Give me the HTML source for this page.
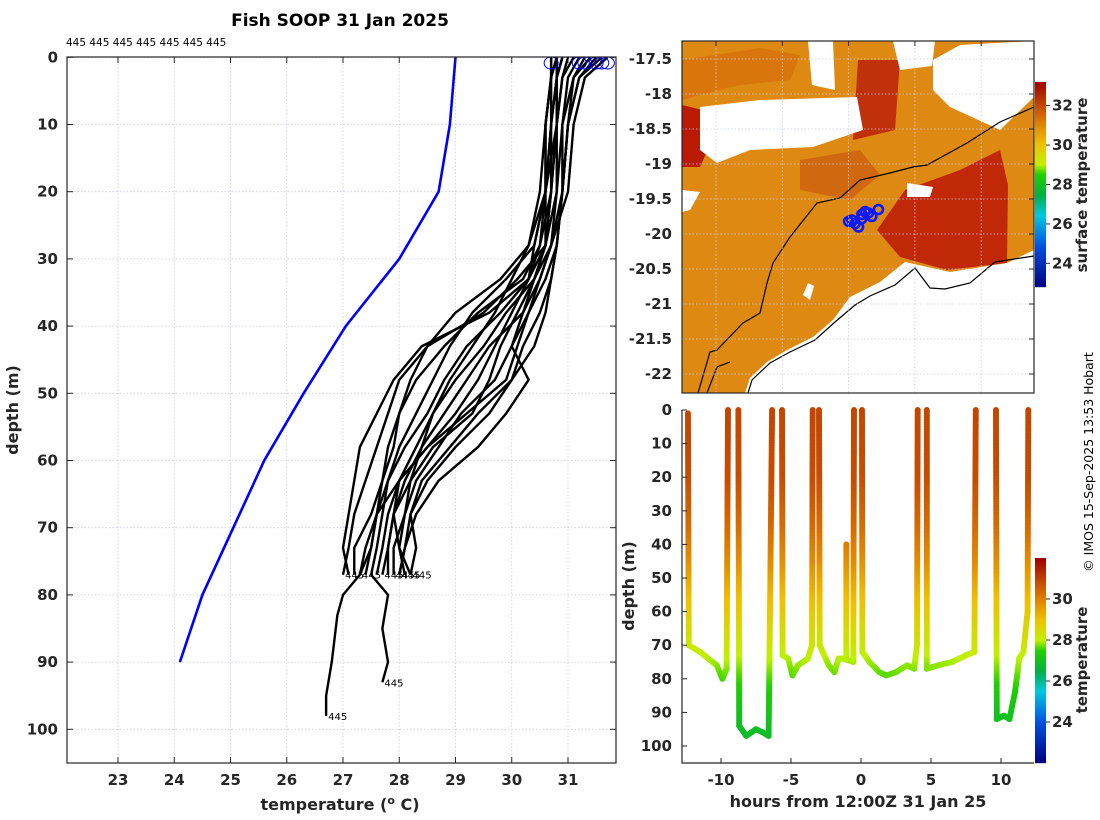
<!DOCTYPE html>
<html><head><meta charset="utf-8">
<style>
html,body{margin:0;padding:0;background:#fff;}
svg{display:block;font-family:"DejaVu Sans","Liberation Sans",sans-serif;}
.tk{font-weight:bold;font-size:15px;fill:#262626;}
.lab{font-weight:bold;font-size:16px;fill:#262626;}
</style></head>
<body>
<svg id="fig" width="1100" height="820" viewBox="0 0 1100 820" xmlns="http://www.w3.org/2000/svg">
<text x="340" y="26" text-anchor="middle" style="font-weight:bold;font-size:17px;fill:#000">Fish SOOP 31 Jan 2025</text>
<text x="66" y="46" style="font-size:10.5px;fill:#000">445 445 445 445 445 445 445</text>
<g id="left"></g>
<g id="map"></g>
<g id="sect"></g>
<text transform="translate(1093,462) rotate(-90)" text-anchor="middle" style="font-size:12.5px;fill:#000">© IMOS 15-Sep-2025 13:53 Hobart</text>
</svg>
<script>
// ---------- DATA ----------
const depthLevels = [0,3,10,20,28,33,38,43,48,53,58,63,68,73,77];
const prof1  = [30.7,30.7,30.6,30.6,30.5,30.3,29.8,29.2,28.8,28.5,28.1,27.8,27.6,27.4,27.3];
const prof2  = [30.9,30.8,30.7,30.6,30.4,29.9,29.3,28.9,28.6,28.3,28.0,27.8,27.7,27.6,27.5];
const prof3  = [31.2,31.0,30.9,30.8,30.6,30.4,30.1,29.8,29.6,29.3,28.6,28.2,27.9,27.8,27.7];
const prof4  = [31.5,31.2,31.0,30.9,30.8,30.6,30.3,30.0,29.7,29.1,28.7,28.3,28.1,27.9,27.9];
const prof5  = [31.7,31.3,31.1,31.0,30.7,30.4,29.9,29.5,29.0,28.6,28.4,28.2,28.1,28.0,28.2];
const prof6  = [30.8,30.7,30.7,30.7,30.6,30.4,30.2,30.0,30.3,29.9,29.4,28.7,28.3,28.1,28.0];
const prof7  = [31.0,30.9,30.8,30.7,30.5,30.2,29.4,28.8,28.3,28.0,27.8,27.7,27.6,27.5,27.3];
const prof8  = [30.9,30.8,30.8,30.7,30.6,30.1,29.5,28.5,28.0,27.8,27.6,27.4,27.2,27.1,27.0];
const prof9  = [31.3,31.1,31.0,30.9,30.7,30.5,30.2,29.6,29.2,28.8,28.4,28.1,27.9,27.8,27.8];
const prof10 = [30.8,30.7,30.6,30.6,30.4,30.3,30.0,29.7,29.4,29.0,28.5,28.0,27.6,27.5,27.4];
const prof11 = [31.4,31.1,30.9,30.9,30.8,30.7,30.6,30.4,30.0,29.6,29.0,28.5,28.2,28.1,28.0];
const prof12 = [30.7,30.7,30.6,30.5,30.3,29.8,29.0,28.5,28.2,28.0,27.9,27.7,27.5,27.2,27.2];
const prof13 = [31.1,30.9,30.8,30.8,30.7,30.5,30.3,30.1,29.9,29.2,28.5,28.0,27.9,28.0,28.1];
const prof14 = [30.8,30.8,30.7,30.6,30.6,30.3,29.6,28.4,27.9,27.6,27.3,27.2,27.1,27.0,27.1];
const prof15 = [31.6,31.2,31.0,30.9,30.8,30.7,30.5,30.2,30.0,29.4,28.9,28.4,28.2,28.3,28.2];
const prof16 = [30.9,30.8,30.8,30.6,30.3,30.0,29.7,29.3,28.9,28.6,28.3,28.0,27.8,27.7,27.6];
const tail1Depth = [80,83,90,95,98];
const tail1Temp  = [27.0,26.9,26.8,26.7,26.7];
const tail2Depth = [80,85,90,93];
const tail2Temp  = [27.8,27.7,27.8,27.7];
const climDepth = [0,10,20,30,40,50,60,70,80,90];
const climTemp  = [29.0,28.9,28.7,28.0,27.05,26.3,25.6,25.05,24.5,24.1];
const tempTicks = [23,24,25,26,27,28,29,30,31];
const depthTicks = [0,10,20,30,40,50,60,70,80,90,100];

const castLon = [116.05,116.1,116.2,116.25,116.35,116.45,116.15,116.0,116.3,116.2];
const castLat = [-19.8,-19.85,-19.72,-19.68,-19.75,-19.65,-19.9,-19.82,-19.7,-19.78];
const latTicks = [-17.5,-18,-18.5,-19,-19.5,-20,-20.5,-21,-21.5,-22];
const lonTicks = [114,115,116,117,118];
const sstTicks = [24,26,28,30,32];

const cast1Hours = [-12.36,-12.3,-11.5,-10.3,-9.9,-9.6,-9.5];
const cast1Depth = [1,70,72,76,80,77,0];
const cast2Hours = [-8.76,-8.7,-8.2,-7.5,-7.0,-6.6,-6.5,-6.35];
const cast2Depth = [0,94,97,95,96,97,60,0];
const cast3Hours = [-5.64,-5.6,-5.2,-4.9,-4.5,-3.8,-3.5,-3.45];
const cast3Depth = [0,73,74,79,76,74,70,0];
const cast4Hours = [-3.0,-2.95,-2.3,-1.9,-1.6,-1.3,-0.55,-0.5];
const cast4Depth = [0,70,76,78,74,74,75,0];
const cast5Hours = [-1.05,-1.05];
const cast5Depth = [40,74];
const cast6Hours = [0.07,0.1,0.6,1.3,1.8,2.5,3.3,3.8,4.0,4.05];
const cast6Depth = [0,72,75,78,79,78,76,77,70,0];
const cast7Hours = [4.7,4.7,5.5,6.5,7.5,8.1,8.2];
const cast7Depth = [0,77,76,75,73,72,0];
const cast8Hours = [9.64,9.7,10.2,10.6,11.0,11.3,11.6,11.9,11.95];
const cast8Depth = [0,92,91,92,84,74,72,60,0];
const colorDepth = [0,20,35,45,55,65,72,80,90,100];
const colorTemp  = [30.9,30.8,30.3,29.8,29.1,28.5,28.1,27.6,27.1,26.8];
const hourTicks = [-10,-5,0,5,10];
const secDepthTicks = [0,10,20,30,40,50,60,70,80,90,100];
const secCbTicks = [24,26,28,30];

// ---------- HELPERS ----------
const NS="http://www.w3.org/2000/svg";
function el(tag,attrs,parent){const e=document.createElementNS(NS,tag);for(const k in attrs)e.setAttribute(k,attrs[k]);parent.appendChild(e);return e;}
const cmStops=[[0,[0,0,128]],[0.2,[0,80,224]],[0.35,[0,200,224]],[0.45,[0,176,64]],[0.55,[32,208,0]],[0.6,[192,240,0]],[0.7,[240,192,0]],[0.8,[224,128,0]],[0.9,[192,64,0]],[1,[160,0,0]]];
function cmap(f){f=Math.max(0,Math.min(1,f));for(let i=1;i<cmStops.length;i++){if(f<=cmStops[i][0]){const a=cmStops[i-1],b=cmStops[i];const t=(f-a[0])/(b[0]-a[0]);const c=a[1].map((v,j)=>Math.round(v+(b[1][j]-v)*t));return `rgb(${c[0]},${c[1]},${c[2]})`;}}return 'rgb(160,0,0)';}
function interp(xs,ys,x){if(x<=xs[0])return ys[0];for(let i=1;i<xs.length;i++){if(x<=xs[i]){const t=(x-xs[i-1])/(xs[i]-xs[i-1]);return ys[i-1]+(ys[i]-ys[i-1])*t;}}return ys[ys.length-1];}
const grid={stroke:'#c8cce0','stroke-width':0.8,'stroke-dasharray':'1.5 2'};

// ---------- LEFT PROFILE PLOT ----------
const L=document.getElementById('left');
const LX0=67,LX1=616,LY0=57,LY1=763;
const tX=t=>61.75+(t-22)*56.25;
const dY=d=>57.3+d*6.72;
tempTicks.forEach(t=>{const l=el('line',Object.assign({x1:tX(t),x2:tX(t),y1:LY0,y2:LY1},grid),L);
});
depthTicks.forEach(d=>{const l=el('line',Object.assign({x1:LX0,x2:LX1,y1:dY(d),y2:dY(d)},grid),L);
});
const clim=el('polyline',{points:climDepth.map((d,i)=>tX(climTemp[i])+','+dY(d)).join(' '),fill:'none',stroke:'#0000ff','stroke-width':2.6},L);


const profiles=[prof1,prof2,prof3,prof4,prof5,prof6,prof7,prof8,prof9,prof10,prof11,prof12,prof13,prof14,prof15,prof16];
profiles.forEach((p,i)=>{
  let pts=depthLevels.map((d,j)=>[tX(p[j]),dY(d)]);
  if(i===0)tail1Depth.forEach((d,j)=>pts.push([tX(tail1Temp[j]),dY(d)]));
  if(i===1)tail2Depth.forEach((d,j)=>pts.push([tX(tail2Temp[j]),dY(d)]));
  const pl=el('polyline',{points:pts.map(q=>q.join(',')).join(' '),fill:'none',stroke:'#000','stroke-width':2.4,'stroke-linejoin':'round'},L);
  
  
  const last=pts[pts.length-1];
  if(i<8){const tx=el('text',{x:last[0]+2,y:last[1]+4,style:'font-size:10px;fill:#000'},L);tx.textContent='445';
  }
});
[prof1,prof3,prof4,prof5,prof9,prof15].forEach(p=>{const c=el('ellipse',{cx:tX(p[0]),cy:63,rx:7,ry:6,fill:'none',stroke:'#0000ff','stroke-width':1},L);
});
const lbox=el('rect',{x:LX0,y:LY0,width:LX1-LX0,height:LY1-LY0,fill:'none',stroke:'#262626','stroke-width':1.2},L);

tempTicks.forEach(t=>{el('line',{x1:tX(t),x2:tX(t),y1:LY1,y2:LY1-6,stroke:'#262626'},L);el('line',{x1:tX(t),x2:tX(t),y1:LY0,y2:LY0+6,stroke:'#262626'},L);
const tx=el('text',{x:tX(t),y:785,'text-anchor':'middle',class:'tk'},L);tx.textContent=t;
});
depthTicks.forEach(d=>{el('line',{x1:LX0,x2:LX0+6,y1:dY(d),y2:dY(d),stroke:'#262626'},L);el('line',{x1:LX1,x2:LX1-6,y1:dY(d),y2:dY(d),stroke:'#262626'},L);
const tx=el('text',{x:58,y:dY(d)+5,'text-anchor':'end',class:'tk'},L);tx.textContent=d;
});
const xl=el('text',{x:340,y:810,'text-anchor':'middle',class:'lab'},L);
xl.innerHTML='temperature (<tspan dy="-6" style="font-size:11px">o</tspan><tspan dy="6"> C)</tspan>';

const yl=el('text',{transform:'translate(18,410) rotate(-90)','text-anchor':'middle',class:'lab'},L);yl.textContent='depth (m)';


// ---------- MAP ----------
const M=document.getElementById('map');
const MX0=682,MX1=1034,MY0=41,MY1=393;
const lonX=l=>716+(l-114)*66.3;
const latY=l=>59+(-17.5-l)*70;
const cp=el('clipPath',{id:'mclip'},M);el('rect',{x:MX0,y:MY0,width:MX1-MX0,height:MY1-MY0},cp);
const mg=el('g',{'clip-path':'url(#mclip)'},M);
const poly=(pts,fill,name)=>{const p=el('polygon',{points:pts,fill:fill},mg);return p;};
poly('682,41 1034,41 1034,393 682,393','#de8a12','sst-field');
poly('682,60 760,48 800,55 790,80 740,85 700,95 682,100','#d8760c','sst-warm-band');
poly('877,230 905,190 960,170 1000,150 1008,185 1007,263 947,270 900,257','#c02808','sst-hot-patch');
poly('682,105 723,115 712,140 700,167 682,167','#b81a04','sst-hot-patch-west');
poly('858,60 900,60 895,130 853,140','#c0300a','sst-hot-patch-north');
poly('800,160 860,150 880,175 850,200 800,190','#d06810','sst-warm-patch');
poly('700,107 760,100 857,97 863,130 813,147 750,150 717,163 700,150','#ffffff','cloud-gap');
poly('933,60 960,45 1034,41 1034,97 1000,130 950,107 933,90','#ffffff','cloud-gap-ne');
poly('808,41 833,41 835,90 812,85','#ffffff','cloud-gap-n');
poly('893,41 935,41 932,66 900,70','#ffffff','cloud-gap-n2');
poly('907,183 933,187 930,197 907,197','#ffffff','cloud-gap-e');
poly('682,190 700,192 690,210 682,212','#ffffff','cloud-gap-w');
poly('1034,250 1007,263 950,272 905,262 880,282 850,297 833,320 813,337 787,350 767,362 750,378 745,393 1034,393','#ffffff','land');
poly('803,295 808,283 814,286 810,300','#ffffff','island');
const iso=el('polyline',{points:'698,393 710,352 717,350 743,323 760,313 767,283 773,263 790,237 817,203 840,198 860,180 890,173 913,167 927,165 967,143 1000,122 1034,107',fill:'none',stroke:'#000','stroke-width':1.2},mg);

const coast=el('polyline',{points:'1034,256 995,262 970,283 945,289 930,288 915,268 895,285 870,296 855,305 835,322 815,340 790,352 770,363 752,380 748,393',fill:'none',stroke:'#000','stroke-width':1.2},mg);

const coast2=el('polyline',{points:'707,393 717,367 730,362',fill:'none',stroke:'#000','stroke-width':1.2},mg);

castLon.forEach((lo,i)=>{const c=el('circle',{cx:lonX(lo),cy:latY(castLat[i]),r:4.5,fill:'none',stroke:'#0a1aff','stroke-width':2.6},mg);
});
lonTicks.forEach(l=>{el('line',Object.assign({x1:lonX(l),x2:lonX(l),y1:MY0,y2:MY1},grid),M);
el('line',{x1:lonX(l),x2:lonX(l),y1:MY0,y2:MY0+5,stroke:'#262626'},M);
const tx=el('text',{x:lonX(l),y:421,'text-anchor':'middle',class:'tk'},M);tx.textContent=l;
});
latTicks.forEach(l=>{el('line',Object.assign({x1:MX0,x2:MX1,y1:latY(l),y2:latY(l)},grid),M);
el('line',{x1:MX1,x2:MX1-5,y1:latY(l),y2:latY(l),stroke:'#262626'},M);
const tx=el('text',{x:672,y:latY(l)+5,'text-anchor':'end',class:'tk'},M);tx.textContent=l;
});
const mbox=el('rect',{x:MX0,y:MY0,width:MX1-MX0,height:MY1-MY0,fill:'none',stroke:'#262626','stroke-width':1.2},M);

const cbY=v=>287-(v-22.8)*(205/10.4);
for(let y=82;y<287;y++){const v=22.8+(287-y)/205*10.4;el('rect',{x:1035,y:y,width:11,height:1.2,fill:cmap((v-22.8)/10.4)},M);}
sstTicks.forEach(v=>{el('line',{x1:1046,x2:1050,y1:cbY(v),y2:cbY(v),stroke:'#262626'},M);
const tx=el('text',{x:1052,y:cbY(v)+5,class:'tk'},M);tx.textContent=v;
});
const cbl=el('text',{transform:'translate(1087,185) rotate(-90)','text-anchor':'middle',class:'lab',style:'font-size:15px'},M);cbl.textContent='surface temperature';


// ---------- SECTION ----------
const S=document.getElementById('sect');
const SX0=682,SX1=1034,SY0=410,SY1=763;
el('rect',{x:SX0-2,y:SY0-3,width:SX1-SX0+4,height:SY1-SY0+3,fill:'#fff'},S);
const hX=h=>861+h*14;
const sY=d=>410+d*3.36;
const casts=[[cast1Hours,cast1Depth],[cast2Hours,cast2Depth],[cast3Hours,cast3Depth],[cast4Hours,cast4Depth],[cast5Hours,cast5Depth],[cast6Hours,cast6Depth],[cast7Hours,cast7Depth],[cast8Hours,cast8Depth]];
casts.forEach(([hs,ds])=>{
  for(let i=1;i<hs.length;i++){
    const x0=hX(hs[i-1]),y0=sY(ds[i-1]),x1=hX(hs[i]),y1=sY(ds[i]);
    const n=Math.max(1,Math.ceil(Math.hypot(x1-x0,y1-y0)/1.8));
    for(let k=0;k<=n;k++){const t=k/n;const d=ds[i-1]+(ds[i]-ds[i-1])*t;
      const c=el('circle',{cx:x0+(x1-x0)*t,cy:y0+(y1-y0)*t,r:3,fill:cmap((interp(colorDepth,colorTemp,d)-22)/10)},S);
      
      }
  }
});
hourTicks.forEach(h=>{el('line',{x1:hX(h),x2:hX(h),y1:SY1,y2:SY1-5,stroke:'#262626'},S);
const tx=el('text',{x:hX(h),y:785,'text-anchor':'middle',class:'tk'},S);tx.textContent=h;
});
secDepthTicks.forEach(d=>{el('line',{x1:SX0,x2:SX0+5,y1:sY(d),y2:sY(d),stroke:'#262626'},S);
const tx=el('text',{x:672,y:sY(d)+5,'text-anchor':'end',class:'tk'},S);tx.textContent=d;
});
el('polyline',{points:`${SX0},${SY0} ${SX0},${SY1} ${SX1},${SY1}`,fill:'none',stroke:'#262626','stroke-width':1.2},S);
const sxl=el('text',{x:858,y:807,'text-anchor':'middle',class:'lab'},S);sxl.textContent='hours from 12:00Z 31 Jan 25';

const syl=el('text',{transform:'translate(634,586) rotate(-90)','text-anchor':'middle',class:'lab'},S);syl.textContent='depth (m)';

const cb2=v=>763-(v-22)*20.5;
for(let y=558;y<763;y++){const v=22+(763-y)/20.5;el('rect',{x:1035,y:y,width:11,height:1.2,fill:cmap((v-22)/10)},S);}
secCbTicks.forEach(v=>{el('line',{x1:1046,x2:1050,y1:cb2(v),y2:cb2(v),stroke:'#262626'},S);
const tx=el('text',{x:1052,y:cb2(v)+5,class:'tk'},S);tx.textContent=v;
});
const cbl2=el('text',{transform:'translate(1087,660) rotate(-90)','text-anchor':'middle',class:'lab',style:'font-size:15px'},S);cbl2.textContent='temperature';

</script>
</body></html>
